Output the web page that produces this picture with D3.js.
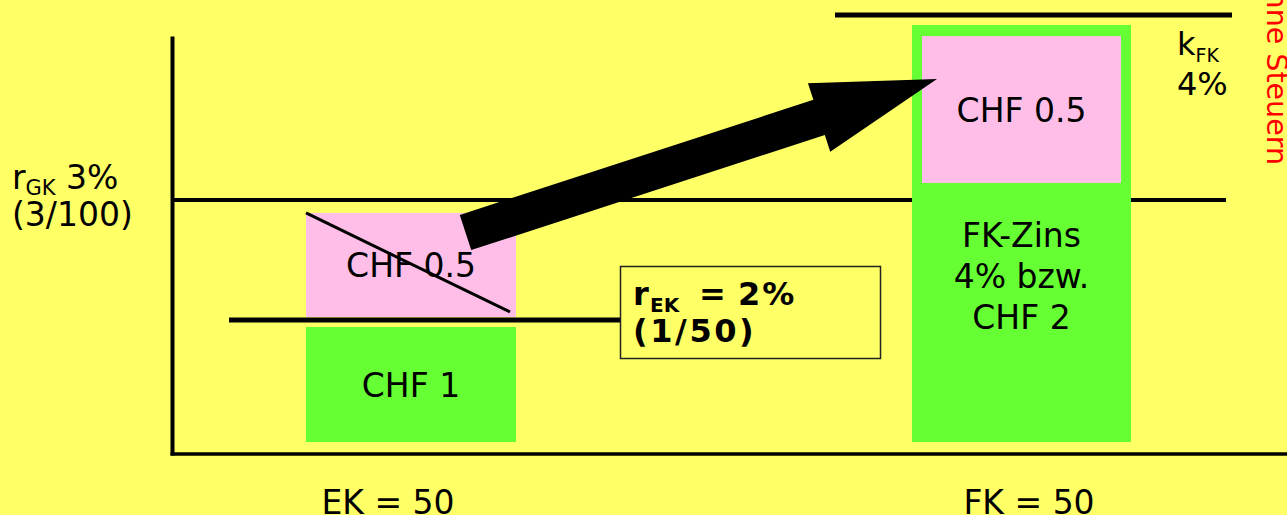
<!DOCTYPE html>
<html>
<head>
<meta charset="utf-8">
<script src="https://cdn.jsdelivr.net/npm/d3@7"></script>
<style>
  html, body { margin: 0; padding: 0; background: #FFFF66; overflow: hidden; }
  svg { display: block; }
</style>
</head>
<body>
<svg id="chart" width="1287" height="515"></svg>
<script>
// ---- data -------------------------------------------------------------
// capital blocks on the horizontal axis
const categories = ["EK = 50", "FK = 50"];

// rate levels (in %) drawn as horizontal reference lines
const rateNames  = ["rEK", "rGK", "kFK"];
const rateValues = [2, 3, 4];

// stacked blocks, expressed on the rate scale
const blockCategory = ["EK = 50", "EK = 50", "FK = 50", "FK = 50"];
const blockKind     = ["return", "shift", "interest", "shift"];
const blockFrom     = [0.165, 2.025, 0.165, 3.092];
const blockTo       = [1.895, 2.892, 3.946, 3.886];
const blockLabels   = [["CHF 1"], ["CHF 0.5"], ["FK-Zins", "4% bzw.", "CHF 2"], ["CHF 0.5"]];

// ---- layout -----------------------------------------------------------
const W = 1287, H = 515;
const FONT = '"DejaVu Sans", Verdana, sans-serif';
const colors = { bg: "#FFFF66", return: "#66FF33", interest: "#66FF33", shift: "#FFBEE8", note: "#FF0000" };
const barWidths   = [210, 219];          // per category
const blockInset  = [0, 0, 0, 10];       // horizontal inset per block
const labelShift  = [0, 0, 42, 0];       // vertical nudge of block labels
const lineSpans   = [[229, 620], [172, 1226], [835, 1232]];
const lineWidths  = [5, 4, 5];
const catLabelNudge = [-23, 7.5];

const svg = d3.select("#chart");
svg.append("rect").attr("width", W).attr("height", H).attr("fill", colors.bg);

// rate scale (piecewise, schematic) and category positions
const y = d3.scaleLinear().domain([0, 2, 3, 4]).range([453, 320, 200, 15]);
const x = d3.scalePoint().domain(categories).range([411, 1021.5]);

// ---- axes -------------------------------------------------------------
const xAxisScale = d3.scaleLinear().range([170, W]);
const yAxisScale = d3.scaleLinear().range([455, 36]);

svg.append("g")
  .attr("transform", `translate(0,${y(0) + 0.5})`)
  .call(d3.axisBottom(xAxisScale).tickValues([]).tickSizeOuter(0))
  .call(g => g.select(".domain").attr("stroke", "#000").attr("stroke-width", 3.5));

svg.append("g")
  .attr("transform", "translate(172,0)")
  .call(d3.axisLeft(yAxisScale).tickValues([]).tickSizeOuter(0))
  .call(g => g.select(".domain").attr("stroke", "#000").attr("stroke-width", 4));

// ---- reference lines --------------------------------------------------
svg.append("g").selectAll("line")
  .data(rateValues)
  .join("line")
  .attr("x1", (d, i) => lineSpans[i][0])
  .attr("x2", (d, i) => lineSpans[i][1])
  .attr("y1", d => y(d))
  .attr("y2", d => y(d))
  .attr("stroke", "#000")
  .attr("stroke-width", (d, i) => lineWidths[i]);

// ---- blocks -----------------------------------------------------------
const blocks = blockFrom.map((f, i) => {
  const ci = categories.indexOf(blockCategory[i]);
  const w = barWidths[ci] - 2 * blockInset[i];
  return {
    i, kind: blockKind[i], labels: blockLabels[i],
    x0: x(blockCategory[i]) - w / 2, w,
    y0: y(blockTo[i]), y1: y(f)
  };
});

svg.append("g").selectAll("rect")
  .data(blocks)
  .join("rect")
  .attr("x", d => d.x0)
  .attr("y", d => d.y0)
  .attr("width", d => d.w)
  .attr("height", d => d.y1 - d.y0)
  .attr("fill", d => colors[d.kind]);

// block labels
const lineH = 41;
const labelG = svg.append("g")
  .attr("font-family", FONT).attr("font-size", 33).attr("fill", "#000")
  .attr("text-anchor", "middle");
blocks.forEach(b => {
  const cy = (b.y0 + b.y1) / 2 + labelShift[b.i];
  const n = b.labels.length;
  b.labels.forEach((t, k) => {
    labelG.append("text")
      .attr("x", b.x0 + b.w / 2)
      .attr("y", cy + 12 + (k - (n - 1) / 2) * lineH)
      .text(t);
  });
});

// the equity share that moves away is struck through
const struck = blocks[1];
svg.append("line")
  .attr("x1", struck.x0).attr("y1", struck.y0)
  .attr("x2", struck.x0 + struck.w - 6).attr("y2", struck.y1 - 5)
  .attr("stroke", "#000").attr("stroke-width", 3);

// ---- arrow from the struck share to the debt interest -----------------
(function drawArrow() {
  const p0 = [x(categories[0]) + 54.5, y(2.729)];
  const p1 = [x(categories[1]) - 84.5, y(3.654)];
  const shaftW = 37, headW = 72, headL = 124;
  const dx = p1[0] - p0[0], dy = p1[1] - p0[1];
  const L = Math.hypot(dx, dy);
  const u = [dx / L, dy / L], n = [-u[1], u[0]];
  const at = (t, s) => [p0[0] + u[0] * t + n[0] * s, p0[1] + u[1] * t + n[1] * s];
  const pts = [
    at(0, -shaftW / 2), at(L - headL, -shaftW / 2), at(L - headL, -headW / 2),
    p1,
    at(L - headL, headW / 2), at(L - headL, shaftW / 2), at(0, shaftW / 2)
  ];
  svg.append("path")
    .attr("d", d3.line()(pts) + "Z")
    .attr("fill", "#000");
})();

// ---- rate annotations --------------------------------------------------
// r_GK on the left
const rgk = svg.append("text").attr("font-family", FONT).attr("font-size", 33).attr("fill", "#000")
  .attr("x", 12).attr("y", y(rateValues[1]) - 11);
rgk.append("tspan").text("r");
rgk.append("tspan").attr("font-size", 21).attr("dy", 6).text("GK");
rgk.append("tspan").attr("dy", -6).text(" 3%");
svg.append("text").attr("font-family", FONT).attr("font-size", 33).attr("fill", "#000")
  .attr("x", 12).attr("y", y(rateValues[1]) + 26).text("(3/100)");

// k_FK at the top right
const kfk = svg.append("text").attr("font-family", FONT).attr("font-size", 32).attr("fill", "#000")
  .attr("x", 1177).attr("y", y(rateValues[2]) + 40);
kfk.append("tspan").text("k");
kfk.append("tspan").attr("font-size", 19).attr("dy", 7).text("FK");
svg.append("text").attr("font-family", FONT).attr("font-size", 32).attr("fill", "#000")
  .attr("x", 1177).attr("y", y(rateValues[2]) + 80).text("4%");

// r_EK box
svg.append("rect")
  .attr("x", 620.5).attr("y", 266.5).attr("width", 260).attr("height", 92)
  .attr("fill", "none").attr("stroke", "#222").attr("stroke-width", 1.5);
const rek = svg.append("text").attr("font-family", FONT).attr("font-weight", "bold")
  .attr("font-size", 32).attr("fill", "#000").attr("y", y(rateValues[0]) - 15);
rek.append("tspan").attr("x", 633).text("r");
rek.append("tspan").attr("x", 650).attr("dy", 7).attr("font-size", 20).text("EK");
rek.append("tspan").attr("x", 699).attr("dy", -7).text("=");
rek.append("tspan").attr("x", 738).attr("letter-spacing", 2).text("2%");
svg.append("text").attr("font-family", FONT).attr("font-weight", "bold")
  .attr("font-size", 32).attr("fill", "#000").attr("letter-spacing", 2.6)
  .attr("x", 633).attr("y", y(rateValues[0]) + 22).text("(1/50)");

// ---- category labels ---------------------------------------------------
svg.append("g").selectAll("text")
  .data(categories)
  .join("text")
  .attr("font-family", FONT).attr("font-size", 33).attr("fill", "#000")
  .attr("text-anchor", "middle")
  .attr("x", (d, i) => x(d) + catLabelNudge[i])
  .attr("y", 514)
  .text(d => d);

// ---- side note ---------------------------------------------------------
svg.append("text")
  .attr("font-family", FONT).attr("font-size", 28.5).attr("fill", colors.note)
  .attr("text-anchor", "end")
  .attr("transform", "translate(1267,165) rotate(90)")
  .text("ohne Steuern");
</script>
</body>
</html>
